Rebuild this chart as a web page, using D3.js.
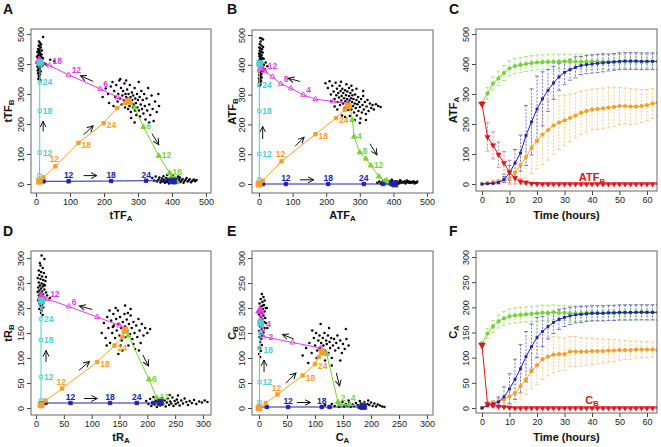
<!DOCTYPE html>
<html><head><meta charset="utf-8">
<script src="https://cdn.jsdelivr.net/npm/d3@7"></script>
<style>body{margin:0;background:#fff}svg{display:block;font-family:"Liberation Sans",Arial,sans-serif}</style>
</head><body><svg id="chart" width="661" height="447"></svg>
<script>
// ---------------- DATA ----------------
const scatterTicks500 = [0,100,200,300,400,500];
const scatterTicks300 = [0,50,100,150,200,250,300];
const timeTicks = [0,10,20,30,40,50,60];
const timeHours = [0,2,4,6,8,10,12,14,16,18,20,22,24,26,28,30,32,34,36,38,40,42,44,46,48,50,52,54,56,58,60,62,64];

// Panel A (tTF)
const cloudA = [[21,490],[12,470],[8,462],[14,455],[6,450],[10,448],[17,445],[4,440],[9,437],[13,433],[7,430],[11,427],[15,425],[5,422],[9,420],[12,418],[18,416],[6,414],[10,412],[14,410],[3,408],[8,405],[12,403],[16,401],[6,398],[10,396],[14,394],[4,392],[9,390],[12,387],[7,384],[11,381],[5,378],[14,375],[9,372],[6,368],[12,365],[8,360],[10,355],[7,350],[13,346],[11,440],[16,432],[20,420],[25,402],[30,398],[42,414],[54,409],[3,425],[19,395],[8,444],[11,458],[15,465],[9,475],
[205,318],[212,300],[220,325],[225,340],[230,310],[233,290],[236,330],[240,275],[242,300],[245,345],[247,285],[250,320],[252,265],[254,295],[256,310],[258,280],[260,335],[262,255],[263,300],[265,290],[267,270],[268,315],[270,285],[271,250],[272,300],[274,275],[275,260],[276,330],[278,290],[279,240],[280,270],[282,305],[283,280],[285,255],[286,295],[288,265],[290,320],[291,245],[292,285],[294,270],[295,230],[297,300],[298,255],[300,280],[302,340],[303,245],[305,290],[306,225],[308,265],[310,310],[312,250],[314,280],[316,235],[318,300],[320,260],[322,215],[325,285],[327,245],[330,320],[333,265],[336,230],[340,295],[343,250],[346,210],[350,275],[355,240],[360,300],[248,350],[265,345],[215,270],[228,260],[196,290],[280,220],[290,205],[333,205],[362,260],
[342,20],[348,12],[352,25],[356,8],[360,15],[363,22],[366,5],[368,12],[371,18],[373,8],[375,26],[377,14],[379,4],[381,10],[383,20],[385,7],[387,15],[389,12],[391,2],[393,18],[395,9],[397,13],[399,24],[401,6],[403,11],[405,16],[407,3],[409,20],[411,8],[413,13],[415,18],[417,5],[419,10],[421,15],[423,22],[425,7],[428,12],[431,17],[434,4],[437,10],[440,14],[443,20],[446,8],[449,12],[452,16],[456,6],[460,11],[464,15],[468,9],[472,13],[402,28],[418,25],[386,30]];
const aMagenta = [[265,278,""],[240,290,""],[189,317,"6"],[96,364,"12"],[40,395,"18"],[15,405,""],[10,410,""]];
const aCyan = [[10,10,""],[10,28,""],[11,105,"12"],[11,244,"18"],[11,339,"24"],[12,395,""],[12,405,""]];
const aOrange = [[10,9,""],[22,22,""],[57,59,"12"],[125,137,"18"],[199,203,"24"],[238,253,""],[262,270,""],[272,276,""]];
const aGreen = [[272,276,""],[290,255,""],[316,190,"6"],[361,94,"12"],[393,37,"18"],[400,20,""],[410,10,""]];
const aBlue = [[10,9,""],[22,9,""],[96,9,"12"],[221,10,"18"],[324,11,"24"],[395,10,""],[405,10,""]];
const aArrows = [[168,342,131,361],[21,175,21,209],[140,164,168,194],[341,168,361,131],[140,28,179,28]];

// Panel B (ATF)
const cloudB = [[3,490],[8,488],[12,485],[5,478],[2,470],[7,465],[1,458],[4,455],[9,452],[2,447],[6,444],[11,441],[0,438],[4,435],[8,432],[1,429],[5,426],[10,423],[3,420],[7,417],[0,414],[4,411],[9,408],[2,405],[6,402],[12,399],[1,396],[5,393],[8,390],[3,387],[0,384],[6,381],[10,378],[2,375],[4,372],[7,369],[1,366],[5,363],[3,360],[8,357],[0,354],[4,351],[2,348],[6,345],[1,342],[3,338],[5,334],[2,330],[15,400],[20,408],[25,395],[18,385],[14,420],[12,460],
[198,338],[205,322],[210,345],[214,300],[218,330],[222,310],[225,285],[228,340],[230,298],[232,320],[234,275],[236,305],[238,290],[240,330],[241,265],[243,312],[245,280],[246,295],[248,320],[250,270],[251,305],[253,288],[254,255],[256,315],[257,278],[259,298],[260,262],[262,285],[263,310],[265,272],[266,248],[268,295],[269,280],[271,265],[272,305],[274,288],[275,250],[277,275],[278,298],[280,262],[281,285],[283,240],[285,270],[286,300],[288,255],[290,282],[291,230],[293,268],[295,292],[296,245],[298,275],[300,258],[302,220],[304,285],[306,240],[308,265],[310,295],[312,250],[315,275],[318,235],[320,260],[323,282],[326,245],[330,270],[334,255],[338,265],[342,250],[348,268],[355,262],[362,258],[300,205],[285,215],[270,228],[318,215],[260,335],[275,330],[225,260],[247,230],[233,250],[290,320],[310,312],[244,343],[268,322],[278,315],[215,278],[256,225],
[352,4],[358,8],[362,2],[366,6],[370,10],[373,3],[376,7],[379,12],[382,1],[385,5],[388,9],[391,3],[394,7],[397,11],[400,2],[403,6],[406,9],[409,4],[412,8],[415,1],[418,5],[421,10],[424,3],[427,7],[430,5],[433,9],[436,2],[439,6],[442,10],[445,4],[448,8],[451,3],[454,7],[457,5],[460,9],[463,2],[466,6],[469,4],[471,8],[395,14],[420,13],[440,12]];
const bMagenta = [[265,271,""],[221,277,""],[168,285,""],[132,299,"4"],[95,321,""],[65,336,"8"],[40,360,""],[17,378,"12"],[8,388,""]];
const bCyan = [[0,0,""],[1,15,""],[1,101,"12"],[1,245,"18"],[1,332,"24"],[2,390,""],[2,405,""]];
const bOrange = [[0,0,""],[11,11,""],[67,76,"12"],[168,167,"18"],[229,221,"24"],[255,249,""],[265,262,""]];
const bGreen = [[270,260,""],[278,215,""],[283,159,"4"],[300,106,"8"],[318,85,""],[333,62,"12"],[357,25,""],[374,9,""],[380,5,""]];
const bBlue = [[0,0,""],[12,0,""],[80,0,"12"],[206,0,"18"],[312,0,"24"],[369,0,""],[394,0,""],[404,0,""]];
const bArrows = [[122,344,87,355],[11,151,11,193],[107,126,134,157],[330,135,351,98],[122,14,163,14]];

// Panel D (tR)
const cloudD = [[10,305],[15,298],[8,285],[12,280],[5,275],[9,272],[14,270],[6,266],[11,263],[3,260],[8,258],[13,256],[17,254],[5,251],[10,249],[14,247],[7,245],[12,243],[4,241],[9,239],[15,237],[6,235],[11,233],[18,231],[8,229],[13,227],[5,225],[10,223],[15,221],[7,219],[12,217],[4,215],[9,213],[14,211],[6,209],[11,207],[8,204],[13,201],[6,198],[10,195],[9,190],[12,186],[20,225],[25,220],[16,245],[3,232],[18,262],[7,290],
[118,150],[122,170],[125,140],[128,182],[130,160],[133,130],[135,175],[137,150],[139,188],[140,165],[142,140],[144,178],[145,155],[147,195],[148,168],[150,145],[151,182],[153,160],[154,135],[156,172],[157,150],[159,188],[160,163],[161,142],[163,177],[164,155],[166,125],[167,168],[169,148],[170,185],[172,160],[173,138],[175,172],[177,150],[178,118],[180,165],[182,142],[184,178],[186,155],[188,130],[190,168],[193,145],[196,160],[200,150],[205,158],[143,200],[160,205],[170,198],[132,195],[155,115],[148,108],[175,128],[185,115],[127,125],[138,162],[165,190],[152,125],
[198,14],[202,8],[205,18],[207,4],[209,11],[211,22],[213,7],[215,14],[217,2],[219,10],[221,17],[223,5],[225,12],[227,20],[229,8],[231,15],[233,3],[235,11],[237,18],[239,6],[241,13],[243,9],[245,21],[247,4],[249,14],[251,8],[253,17],[255,11],[258,5],[261,15],[264,9],[267,19],[270,12],[273,6],[276,14],[280,10],[284,16],[288,8],[293,13],[298,11],[303,15],[308,12],[255,25],[240,26]];
const dMagenta = [[160,160,""],[150,165,""],[110,182,""],[59,203,"6"],[20,218,"12"],[10,222,""]];
const dCyan = [[9,9,""],[9,15,""],[9,62,"12"],[9,136,"18"],[9,178,"24"],[10,205,""],[10,215,""]];
const dOrange = [[9,6,""],[17,15,""],[47,39,"12"],[110,92,"18"],[141,125,"24"],[155,142,""],[160,155,""]];
const dGreen = [[160,155,""],[166,145,""],[203,57,"6"],[217,20,"12"],[223,12,""]];
const dBlue = [[9,9,""],[17,10,""],[62,10,"12"],[133,10,"18"],[181,10,"24"],[211,10,""],[223,11,""]];
const dArrows = [[101,197,78,204],[18,92,18,115],[77,75,96,93],[192,106,202,84],[86,19,110,19]];

// Panel E (C)
const cloudE = [[5,228],[8,222],[3,218],[10,215],[6,212],[1,209],[9,206],[4,203],[12,200],[7,198],[2,195],[10,193],[5,190],[0,187],[8,185],[3,182],[11,180],[6,177],[1,174],[9,172],[4,169],[7,166],[2,163],[10,160],[5,157],[0,154],[8,151],[3,148],[6,145],[1,142],[4,138],[2,132],[5,126],[1,120],[3,114],[0,108],[2,102],[14,200],[12,170],[15,160],[7,205],[4,195],
[78,105],[84,120],[90,130],[94,110],[98,140],[100,125],[102,150],[104,115],[106,135],[108,145],[109,120],[111,130],[112,108],[114,140],[115,125],[117,150],[118,115],[120,135],[121,128],[123,145],[124,110],[126,132],[127,120],[129,140],[130,100],[132,125],[134,138],[136,115],[138,130],[140,145],[142,120],[145,135],[148,110],[150,128],[153,118],[156,138],[160,125],[110,168],[125,160],[155,158],[95,155],[88,90],[130,85],[145,95],[118,95],[103,100],
[112,3],[118,6],[125,2],[130,8],[135,4],[140,10],[143,2],[146,6],[149,12],[152,3],[155,8],[158,5],[161,11],[164,2],[167,7],[170,4],[173,10],[176,6],[179,2],[182,9],[185,5],[188,12],[191,3],[194,8],[197,6],[200,11],[203,4],[206,9],[209,3],[212,7],[216,5],[220,3],[224,2],[180,14],[195,15],[160,15]];
const eMagenta = [[110,120,""],[60,131,""],[8,143,"2"],[6,158,"4"],[4,180,""],[2,195,""]];
const eCyan = [[0,0,""],[1,12,""],[1,52,"12"],[1,120,"18"],[2,150,""],[3,170,""]];
const eOrange = [[0,0,""],[12,10,""],[33,27,"12"],[78,65,"18"],[100,88,"24"],[107,102,""],[113,112,""]];
const eGreen = [[121,108,""],[141,12,""],[144,7,"2"],[162,7,"4"],[180,3,""],[186,3,""]];
const eBlue = [[0,2,""],[14,2,""],[52,2,"12"],[112,2,"18"],[126,2,""],[180,2,""],[186,3,""]];
const eArrows = [[62,138,42,147],[9,72,9,96],[48,50,66,70],[138,70,144,44],[68,11,92,11]];

// Panel C (ATF_A over time)
const cGreen = [270,302,335,352,370,385,393,397,400,403,405,406,407,407,408,408,408,408,407,407,408,408,408,408,407,407,408,408,408,407,408,408,408];
const cGreenErr = [5,20,22,24,25,25,25,25,25,25,25,25,25,25,25,25,25,25,25,25,25,25,25,25,25,25,25,25,25,25,25,25,25];
const cBlue = [0,1,2,5,15,37,70,103,162,207,250,284,312,337,357,372,381,389,395,398,400,402,404,405,407,409,410,410,410,409,409,409,409];
const cBlueErr = [2,3,4,6,10,25,45,60,100,110,110,90,70,55,45,40,35,35,30,30,30,30,30,28,28,28,28,28,28,28,28,28,28];
const cOrange = [0,3,6,9,12,20,38,63,90,120,145,165,180,195,205,212,220,228,237,243,248,250,252,255,257,260,260,258,258,260,263,268,272];
const cOrangeErr = [2,3,4,5,8,15,30,50,70,85,95,100,100,95,90,85,80,75,72,70,68,68,68,68,65,62,60,60,58,55,52,50,45];
const cRed = [267,157,129,98,70,39,20,8,5,2,1,0,0,0,0,0,0,0,0,0,0,0,0,0,0,0,0,0,0,0,0,0,0];
const cRedErr = [0,47,45,42,38,40,20,10,5,3,2,0,0,0,0,0,0,0,0,0,0,0,0,0,0,0,0,0,0,0,0,0,0];

// Panel F (C_A over time)
const fGreen = [128,148,162,172,178,182,184,185,186,187,188,189,189,190,189,189,188,188,188,189,189,189,189,189,189,189,189,189,190,191,190,190,190];
const fGreenErr = [3,10,12,13,14,15,15,15,15,15,15,15,15,15,15,15,15,15,15,15,15,15,15,15,15,15,15,15,15,15,15,15,15];
const fBlue = [0,5,8,12,22,38,57,78,102,122,140,152,162,170,176,180,183,185,186,187,188,188,188,189,189,190,190,190,190,190,190,190,190];
const fBlueErr = [2,3,5,10,20,30,40,48,50,45,40,30,25,22,20,18,17,16,16,15,15,15,15,15,15,15,15,15,15,15,15,15,15];
const fOrange = [0,7,10,13,17,23,30,43,57,73,85,97,102,106,107,107,112,112,112,112,113,113,113,114,114,115,115,115,116,116,116,116,115];
const fOrangeErr = [2,4,5,6,8,13,18,25,30,35,38,40,38,36,34,32,30,30,28,27,26,25,24,23,22,20,19,18,17,16,16,15,15];
const fRed = [125,8,5,3,2,1,0,0,0,0,0,0,0,0,0,0,0,0,0,0,0,0,0,0,0,0,0,0,0,0,0,0,0];
const fRedErr = [0,4,3,2,1,1,0,0,0,0,0,0,0,0,0,0,0,0,0,0,0,0,0,0,0,0,0,0,0,0,0,0,0];

// ---------------- STYLE ----------------
const COL = {
  magenta:"#e23ce2", cyan:"#4ccfcf", orange:"#f5a02a", green:"#78d23a", blue:"#2020b0", red:"#dc1818",
  greenErr:"#a9e47a", blueErr:"#6a6ad0", orangeErr:"#f7c98a", redErr:"#e27a7a"
};
const svg = d3.select("#chart");
const defs = svg.append("defs");
defs.append("marker").attr("id","arr").attr("markerUnits","userSpaceOnUse")
  .attr("markerWidth",8).attr("markerHeight",8).attr("refX",6).attr("refY",4).attr("orient","auto")
  .append("path").attr("d","M0,1 L6,4 L0,7").attr("fill","none").attr("stroke","#111").attr("stroke-width",1);

function panelLetter(t,x,y){
  svg.append("text").attr("x",x).attr("y",y).attr("font-size",14).attr("font-weight","bold").attr("fill","#111").text(t);
}
function subLabel(g,x,y,main,sub,rotate,size){
  const fs = size||11;
  const t = g.append("text").attr("font-size",fs).attr("font-weight","bold").attr("fill","#111")
    .attr("text-anchor","middle");
  if(rotate) t.attr("transform",`translate(${x},${y}) rotate(-90)`); else t.attr("x",x).attr("y",y);
  t.append("tspan").text(main);
  if(sub) t.append("tspan").attr("font-size",fs*0.72).attr("dy",2.5).text(sub);
  return t;
}
function axes(g,x,y,box,xt,yt){
  const gx = g.append("g").attr("transform",`translate(0,${box.b})`)
    .call(d3.axisBottom(x).tickValues(xt).tickSize(4).tickPadding(2));
  gx.select(".domain").remove();
  gx.selectAll("line").attr("stroke","#444");
  gx.selectAll("text").attr("font-size",9).attr("fill","#222").attr("font-family","Liberation Sans, Arial, sans-serif");
  const gy = g.append("g").attr("transform",`translate(${box.l},0)`)
    .call(d3.axisLeft(y).tickValues(yt).tickSize(4));
  gy.select(".domain").remove();
  gy.selectAll("line").attr("stroke","#444");
  gy.selectAll("text").attr("font-size",9).attr("fill","#222").attr("font-family","Liberation Sans, Arial, sans-serif")
    .attr("transform","rotate(-90)").attr("x",0).attr("y",-7).attr("dy",0).attr("text-anchor","middle");
  g.append("rect").attr("x",box.l).attr("y",box.t).attr("width",box.r-box.l).attr("height",box.b-box.t)
    .attr("fill","none").attr("stroke","#666").attr("stroke-width",1);
}

const trajStyle = {
  magenta:{c:COL.magenta, sym:d3.symbolTriangle, fill:"none", dx:3, dy:-2, anchor:"start"},
  cyan:{c:COL.cyan, sym:d3.symbolSquare, fill:"none", dx:3, dy:3, anchor:"start"},
  orange:{c:COL.orange, sym:d3.symbolSquare, fill:COL.orange, dx:3, dy:5, anchor:"start"},
  green:{c:COL.green, sym:d3.symbolTriangle, fill:COL.green, dx:3, dy:2, anchor:"start"},
  blue:{c:COL.blue, sym:d3.symbolSquare, fill:COL.blue, dx:0, dy:-3, anchor:"middle"}
};
// per-label placement tweaks (offsets in px)
const commonOverrides = {orange:{"12":[-1,-4,"middle"]}};
function traj(g,x,y,pts,key,bigFirst,over){
  const s = trajStyle[key];
  const ov = Object.assign({}, (commonOverrides[key]||{}), ((over||{})[key]||{}));
  g.append("path").datum(pts).attr("d",d3.line().x(d=>x(d[0])).y(d=>y(d[1])))
    .attr("fill","none").attr("stroke",s.c).attr("stroke-width",1);
  g.selectAll(null).data(pts).join("path")
    .attr("transform",d=>`translate(${x(d[0])},${y(d[1])})`)
    .attr("d",(d,i)=> d3.symbol(s.sym,(i===pts.length-1||(bigFirst&&i===0))?34:12)())
    .attr("fill",(d,i)=> (i===pts.length-1||(bigFirst&&i===0))?s.c:s.fill)
    .attr("stroke",s.c).attr("stroke-width",0.9);
  g.selectAll(null).data(pts.filter(d=>d[2])).join("text")
    .attr("x",d=>x(d[0])+(ov[d[2]]?ov[d[2]][0]:s.dx))
    .attr("y",d=>y(d[1])+(ov[d[2]]?ov[d[2]][1]:s.dy))
    .attr("text-anchor",d=>ov[d[2]]&&ov[d[2]][2]?ov[d[2]][2]:s.anchor)
    .attr("font-size",8.5).attr("font-weight","bold").attr("fill",s.c).text(d=>d[2]);
}
function scatterPanel(cfg){
  const g = svg.append("g");
  const x = d3.scaleLinear().domain([0,cfg.max]).range(cfg.xr);
  const y = d3.scaleLinear().domain([0,cfg.max]).range(cfg.yr);
  axes(g,x,y,cfg.box,cfg.ticks,cfg.ticks);
  g.selectAll(null).data(cfg.cloud).join("circle")
    .attr("cx",d=>x(d[0])).attr("cy",d=>y(d[1])).attr("r",1.25).attr("fill","#000");
  traj(g,x,y,cfg.magenta,"magenta",false,cfg.over);
  traj(g,x,y,cfg.cyan,"cyan",false,cfg.over);
  traj(g,x,y,cfg.green,"green",false,cfg.over);
  traj(g,x,y,cfg.blue,"blue",false,cfg.over);
  traj(g,x,y,cfg.orange,"orange",true,cfg.over);
  g.selectAll(null).data(cfg.arrows).join("line")
    .attr("x1",d=>x(d[0])).attr("y1",d=>y(d[1])).attr("x2",d=>x(d[2])).attr("y2",d=>y(d[3]))
    .attr("stroke","#111").attr("stroke-width",1).attr("marker-end","url(#arr)");
  const cx = (cfg.box.l+cfg.box.r)/2, cy=(cfg.box.t+cfg.box.b)/2;
  subLabel(g,cx,cfg.box.b+25.5,cfg.xlab[0],cfg.xlab[1]);
  subLabel(g,cfg.ylabX,cy,cfg.ylab[0],cfg.ylab[1],true);
}
function timePanel(cfg){
  const g = svg.append("g");
  const x = d3.scaleLinear().domain([0,60]).range(cfg.xr);
  const y = d3.scaleLinear().domain([0,cfg.max]).range(cfg.yr);
  const id = "clip"+cfg.id;
  defs.append("clipPath").attr("id",id).append("rect")
    .attr("x",cfg.box.l).attr("y",cfg.box.t).attr("width",cfg.box.r-cfg.box.l).attr("height",cfg.box.b-cfg.box.t);
  const p = g.append("g").attr("clip-path",`url(#${id})`);
  const series = [
    {v:cfg.orange,e:cfg.orangeErr,c:COL.orange,ec:COL.orangeErr,m:"circle"},
    {v:cfg.green,e:cfg.greenErr,c:COL.green,ec:COL.greenErr,m:"circle"},
    {v:cfg.blue,e:cfg.blueErr,c:COL.blue,ec:COL.blueErr,m:"square"},
    {v:cfg.red,e:cfg.redErr,c:COL.red,ec:COL.redErr,m:"tri"}
  ];
  series.forEach(s=>{
    const eg = p.append("g").attr("stroke",s.ec).attr("stroke-width",0.9);
    timeHours.forEach((t,i)=>{
      if(s.e[i]<=0) return;
      const xx=x(t), y1=y(s.v[i]+s.e[i]), y2=y(Math.max(0,s.v[i]-s.e[i]));
      eg.append("line").attr("x1",xx).attr("x2",xx).attr("y1",y1).attr("y2",y2).attr("stroke-dasharray","2,1.5");
      eg.append("line").attr("x1",xx-2).attr("x2",xx+2).attr("y1",y1).attr("y2",y1);
      eg.append("line").attr("x1",xx-2).attr("x2",xx+2).attr("y1",y2).attr("y2",y2);
    });
  });
  series.forEach(s=>{
    const pts = timeHours.map((t,i)=>[t,s.v[i]]);
    p.append("path").datum(pts).attr("d",d3.line().x(d=>x(d[0])).y(d=>y(d[1])))
      .attr("fill","none").attr("stroke",s.c).attr("stroke-width",1);
    const mk = p.selectAll(null).data(pts).join("path")
      .attr("transform",d=>`translate(${x(d[0])},${y(d[1])})${s.m==="tri"?" rotate(180)":""}`)
      .attr("fill",s.c);
    if(s.m==="circle") mk.attr("d",d3.symbol(d3.symbolCircle,14)());
    else if(s.m==="square") mk.attr("d",d3.symbol(d3.symbolSquare,8)());
    else mk.attr("d",(d,i)=>d3.symbol(d3.symbolTriangle,i===0?26:16)());
  });
  axes(g,x,y,cfg.box,timeTicks,cfg.ticks);
  g.append("text").attr("x",(cfg.box.l+cfg.box.r)/2).attr("y",cfg.box.b+27.5).attr("text-anchor","middle")
    .attr("font-size",11).attr("font-weight","bold").attr("fill","#111").text("Time (hours)");
  subLabel(g,cfg.ylabX,(cfg.box.t+cfg.box.b)/2,cfg.ylab[0],cfg.ylab[1],true);
  const rl = subLabel(g,x(cfg.redLabel[0]),y(cfg.redLabel[1]),cfg.redName[0],cfg.redName[1],false,11);
  rl.attr("fill",COL.red);
}

// ---------------- PANELS ----------------
panelLetter("A",3,14); panelLetter("B",227,14); panelLetter("C",449,14);
panelLetter("D",3,236); panelLetter("E",227,236); panelLetter("F",449,236);

scatterPanel({box:{l:31,r:211,t:29,b:193},xr:[36,206],yr:[184,34],max:500,ticks:scatterTicks500,
  cloud:cloudA,magenta:aMagenta,cyan:aCyan,orange:aOrange,green:aGreen,blue:aBlue,arrows:aArrows,
  xlab:["tTF","A"],ylab:["tTF","B"],ylabX:11.5});
scatterPanel({box:{l:252,r:433,t:30,b:193},xr:[259,427],yr:[184,35],max:500,ticks:scatterTicks500,
  cloud:cloudB,magenta:bMagenta,cyan:bCyan,orange:bOrange,green:bGreen,blue:bBlue,arrows:bArrows,
  xlab:["ATF","A"],ylab:["ATF","B"],ylabX:235.5});
scatterPanel({box:{l:31,r:211,t:251,b:415},xr:[36,203],yr:[408,258],max:300,ticks:scatterTicks300,
  cloud:cloudD,magenta:dMagenta,cyan:dCyan,orange:dOrange,green:dGreen,blue:dBlue,arrows:dArrows,
  xlab:["tR","A"],ylab:["tR","B"],ylabX:11.5});
scatterPanel({box:{l:252,r:433,t:251,b:415},xr:[259,427],yr:[408,258],max:300,ticks:scatterTicks300,
  cloud:cloudE,magenta:eMagenta,cyan:eCyan,orange:eOrange,green:eGreen,blue:eBlue,arrows:eArrows,
  xlab:["C","A"],ylab:["C","B"],ylabX:235.5,
  over:{magenta:{"2":[5,3],"4":[4,-2]},cyan:{"18":[4,5]},green:{"2":[1,-4],"4":[1,-4]}}});
timePanel({id:"C",box:{l:476,r:657,t:29,b:191},xr:[482,647],yr:[184,34],max:500,ticks:scatterTicks500,
  green:cGreen,greenErr:cGreenErr,blue:cBlue,blueErr:cBlueErr,orange:cOrange,orangeErr:cOrangeErr,red:cRed,redErr:cRedErr,
  ylab:["ATF","A"],ylabX:456.5,redLabel:[40,10],redName:["ATF","B"]});
timePanel({id:"F",box:{l:476,r:657,t:251,b:413},xr:[482,647],yr:[408,257],max:300,ticks:scatterTicks300,
  green:fGreen,greenErr:fGreenErr,blue:fBlue,blueErr:fBlueErr,orange:fOrange,orangeErr:fOrangeErr,red:fRed,redErr:fRedErr,
  ylab:["C","A"],ylabX:456.5,redLabel:[40,8],redName:["C","B"]});
</script></body></html>
